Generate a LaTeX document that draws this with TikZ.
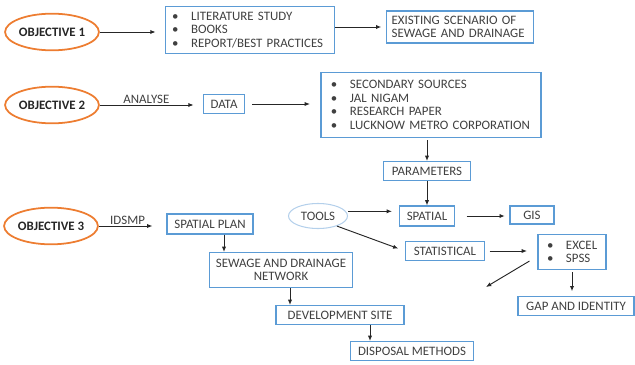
\documentclass[tikz,border=0pt]{standalone}
\usepackage{fontspec}
\setmainfont{Carlito}
\usepackage{tikz}
\usetikzlibrary{shapes, arrows.meta}

\definecolor{boxBlue}{RGB}{91,155,213}
\definecolor{toolBlue}{RGB}{180,208,235}
\definecolor{objOrange}{RGB}{237,125,49}
\definecolor{textGray}{RGB}{64,64,64}

\newcommand{\itm}{\makebox[0.57cm][l]{\textbullet}}

\begin{document}
\begin{tikzpicture}[
    x=0.03cm, y=-0.03cm,
    every node/.style={
        text centered,
        text=textGray,
        font=\fontsize{11}{11.5}\selectfont,
        },
    objective/.style={ellipse, draw=objOrange, line width=1.5pt, minimum width=2.55cm, minimum height=1.1cm, inner sep=0pt, text=black!85, font=\fontsize{11}{11.5}\selectfont\bfseries},
    box/.style={draw=boxBlue, line width=0.9pt, inner sep=2pt},
    listBox/.style={box, align=left, inner xsep=0.27cm},
    arrow/.style={->, >={Latex[length=4.5pt, width=3.6pt]}, line width=0.8pt, black!85}
    ]
    \useasboundingbox (0,0) rectangle (635,365);

    % objective 1
    \node[objective] (obj1) at (52,32) {OBJECTIVE 1};
    \node[listBox, minimum width=5.07cm, minimum height=1.41cm, text width=4.67cm, inner xsep=0.2cm] (literature) at (250,30)
        {\itm LITERATURE STUDY\\ \itm BOOKS\\ \itm REPORT/BEST PRACTICES};
    \node[box, align=left, minimum width=4.41cm, minimum height=0.96cm, text width=4.1cm] (existing) at (460,27)
        {EXISTING SCENARIO OF\\ SEWAGE AND DRAINAGE};

    \draw[arrow, shorten >=8] (obj1.east) -- (obj1.east -| literature.west);
    \draw[arrow, shorten >=4] (literature.east |- existing) -- (existing.west);

    % objective 2
    \node[objective] (obj2) at (52,105) {OBJECTIVE 2};
    \node[box, minimum width=1.23cm, minimum height=0.57cm] (data) at (224,104) {DATA};
    \node[listBox, minimum width=6.6cm, minimum height=1.95cm, text width=6.0cm, inner xsep=0.3cm] (sources) at (431,105)
        {\itm SECONDARY SOURCES\\ \itm JAL NIGAM\\ \itm RESEARCH PAPER\\ \itm LUCKNOW METRO CORPORATION};
    \node[box, minimum width=2.61cm, minimum height=0.57cm] (parameters) at (427,171) {PARAMETERS};

    \draw[arrow, shorten >=8] (obj2.east) -- node[above, inner sep=1pt, xshift=-0.15cm] {ANALYSE} (obj2.east -| data.west);
    \draw[arrow, shorten <=6, shorten >=9] (data.east) -- (data.east -| sources.west);
    \draw[arrow, shorten <=2] (sources.south -| parameters) -- (parameters.north);

    % objective 3
    \node[objective] (obj3) at (51,226) {OBJECTIVE 3};
    \node[box, minimum width=2.58cm, minimum height=0.6cm] (spatialPlan) at (210,224) {SPATIAL PLAN};
    \node[box, align=center, minimum width=4.29cm, minimum height=1.05cm] (network) at (281,270)
        {SEWAGE AND DRAINAGE\\ NETWORK};
    \node[box, minimum width=3.84cm, minimum height=0.57cm] (devSite) at (340,315) {DEVELOPMENT SITE};
    \node[box, minimum width=3.69cm, minimum height=0.57cm] (disposal) at (412,351) {DISPOSAL METHODS};

    \node[ellipse, draw=toolBlue, line width=0.9pt, minimum width=1.77cm, minimum height=0.75cm, inner sep=0pt] (tools) at (318,216) {TOOLS};
    \node[box, minimum width=1.65cm, minimum height=0.6cm] (spatial) at (427,216) {SPATIAL};
    \node[box, minimum width=1.32cm, minimum height=0.54cm] (gis) at (532,215) {GIS};
    \node[box, minimum width=2.37cm, minimum height=0.57cm] (statistical) at (445,251) {STATISTICAL};
    \node[listBox, minimum width=2.01cm, minimum height=1.05cm, text width=1.5cm] (software) at (572,252)
        {\itm EXCEL\\ \itm SPSS};
    \node[box, minimum width=3.48cm, minimum height=0.57cm] (gap) at (576,306) {GAP AND IDENTITY};
    \coordinate (loose) at (486,287);

    \draw[arrow, shorten >=12] (obj3.east) -- node[above, inner sep=1pt, xshift=-0.15cm] {IDSMP} (obj3.east -| spatialPlan.west);
    \draw[arrow] (spatialPlan.south -| 224,0) -- (network.north -| 224,0);
    \draw[arrow] (network.south -| 290,0) -- (devSite.north -| 290,0);
    \draw[arrow] (devSite.south -| 370,0) -- (disposal.north -| 370,0);

    \draw[arrow] (parameters.south) -- (spatial.north);
    \draw[arrow, shorten >=6] ([yshift=4]tools.east) -- ([yshift=4]tools.east -| spatial.west);
    \draw[arrow, shorten <=10, shorten >=4] (spatial.east) -- (spatial.east -| gis.west);
    \draw[arrow, shorten >=6] (tools.-28) -- (statistical.west);
    \draw[arrow, shorten <=4, shorten >=9] (statistical.east) -- (statistical.east -| software.west);
    \draw[arrow, shorten <=2, shorten >=4] (software.south) -- (gap.north -| software.south);
    \draw[arrow] ([shift={(-8,-9)}]software.south west) -- (loose);
\end{tikzpicture}
\end{document}
